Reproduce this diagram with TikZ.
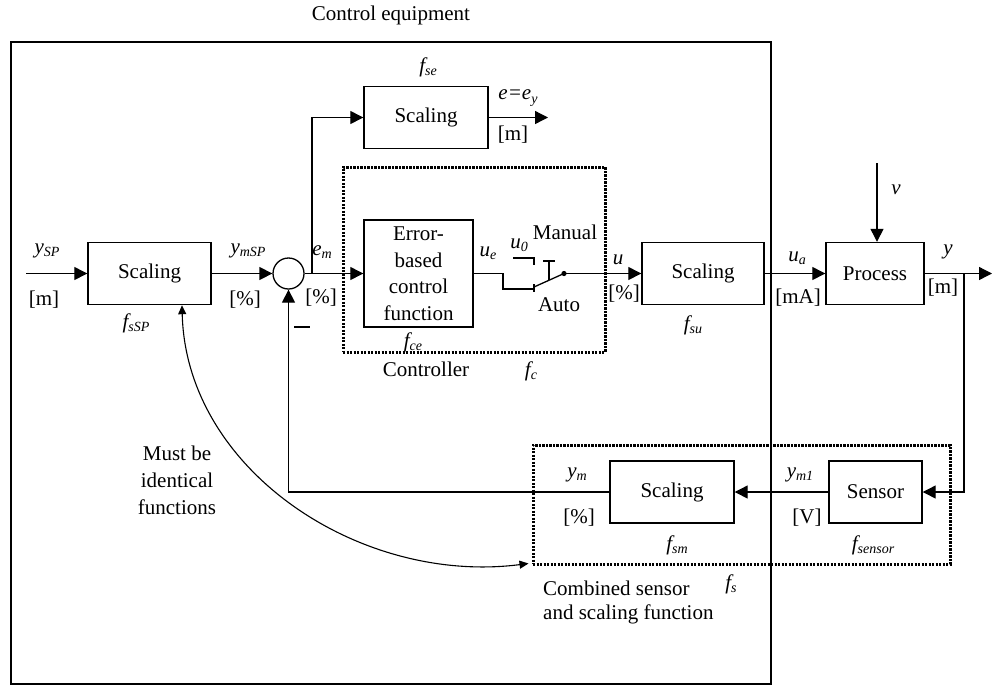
\documentclass[tikz,border=0pt]{standalone}
\usepackage{fontspec}
\setmainfont{Liberation Serif}
\usetikzlibrary{arrows.meta}

% italic symbol with a lowered italic subscript
\newcommand\sig[2]{{\itshape #1}\raisebox{-0.35ex}{\fontsize{14}{14}\selectfont\itshape #2}}

\begin{document}
\begin{tikzpicture}[x=1pt,y=-1pt,
  every node/.style={inner sep=0pt, font=\fontsize{21}{26}\selectfont},
  blk/.style={draw, line width=1.4pt, minimum height=62pt, inner sep=0pt},
  sigline/.style={line width=1.3pt},
  arr/.style={sigline, -{Triangle[length=13pt,width=13pt]}},
  grp/.style={draw, line width=3pt, dash pattern=on 2.2pt off 1.3pt},
  smallarr/.style={line width=1.1pt, {Triangle[length=9pt,width=8pt]}-{Triangle[length=9pt,width=8pt]}},
]
\useasboundingbox (0,0) rectangle (992,686);

% enclosures
\node[draw, line width=1.4pt, minimum width=760pt, minimum height=642pt] (equip) at (391,363) {};
\node (title) at (391,15) {Control equipment};
\node[grp, minimum width=262pt, minimum height=185pt] (ctrl) at (474,259.5) {};
\node[grp, minimum width=417pt, minimum height=119pt] (sgrp) at (741.5,504.5) {};

% blocks
\node[blk, minimum width=123pt] (sSP) at (149.5,273.5) {Scaling};
\node[draw, circle, line width=1.3pt, minimum size=31pt] (sum) at (288.5,273.5) {};
\node[blk, minimum width=124pt] (fse) at (426,117.5) {Scaling};
\node[blk, minimum width=109pt, minimum height=107pt, align=center,
      font=\fontsize{21}{26.5}\selectfont] (err) at (418.5,273.5) {Error-\\based\\control\\function};
\node[blk, minimum width=122pt] (su) at (703,273.5) {Scaling};
\node[blk, minimum width=98pt] (proc) at (875,273.5) {Process};
\node[blk, minimum width=124pt] (ssm) at (672,492) {Scaling};
\node[blk, minimum width=93pt] (sens) at (875.5,492) {Sensor};

% free ends and corners
\coordinate (yin) at (26,273.5);
\coordinate (br1) at (312,273.5);
\coordinate (eout) at (548,117.5);
\coordinate (sa) at (503,273.5);
\coordinate (sb) at (503,289);
\coordinate (sc) at (534,289);
\coordinate (pivot) at (534,287);
\coordinate (tip) at (564,273.5);
\coordinate (vtop) at (877,163);
\coordinate (yout) at (992,273.5);
\coordinate (br2) at (964,273.5);
\coordinate (fbk) at (288.5,492);

% signal paths
\draw[arr] (yin) -- (sSP.west);
\draw[arr] (sSP.east) -- (sum.west);
\draw[arr] (sum.east) -- (err.west);
\draw[arr] (br1) |- (fse.west);
\draw[arr] (fse.east) -- (eout);
\draw[sigline] (err.east) -- (sa) -- (sb) -- (sc);
\draw[arr] (tip) -- (su.west);
\draw[arr] (su.east) -- (proc.west);
\draw[arr] (vtop) -- (vtop |- proc.north);
\draw[arr] (proc.east) -- (yout);
\draw[arr] (br2) |- (sens.east);
\draw[arr] (sens.west) -- (ssm.east);
\draw[arr] (ssm.west) -- (fbk) -- (sum.south);

% manual/auto switch
\draw[sigline] (534,284) -- (534,292);
\draw[sigline] (pivot) -- (tip);
\fill (tip) circle (2.6pt);
\draw[sigline] (513,258) -- (534,258) -- (534,265);
\draw[sigline] (543,261) -- (555,261);
\draw[sigline] (549,261) -- (549,280);

% minus sign at the summing point
\draw[line width=1.4pt] (294,327) -- (310,327);

% link between the two scaling functions
\draw[smallarr] ([xshift=32.5pt]sSP.south) .. controls (186,470) and (360,585) .. ([xshift=-3pt,yshift=2pt]sgrp.south west);

% labels
\node (lySP) at (47,251) {\sig{y}{SP}};
\node (lm1) at (44,300) {[m]};
\node (lymSP) at (248,251) {\sig{y}{mSP}};
\node (lp1) at (245,300) {[\%]};
\node (lem) at (322,252) {\sig{e}{m}};
\node (lp2) at (321,298) {[\%]};
\node (lfSP) at (136,323) {\sig{f}{sSP}};
\node (lfse) at (428,67) {\sig{f}{se}};
\node (le) at (518,98) {\sig{e=e}{y}};
\node (lm2) at (513,135) {[m]};
\node (lfce) at (413,342) {\sig{f}{ce}};
\node (lctrl) at (426,369) {Controller};
\node (lfc) at (531,371) {\sig{f}{c}};
\node (lue) at (488,253) {\sig{u}{e}};
\node (lu0) at (519,245) {\sig{u}{0}};
\node (lman) at (565,232) {Manual};
\node (lauto) at (559,305) {Auto};
\node (lu) at (618,260) {\itshape u};
\node (lp3) at (624,294) {[\%]};
\node (lfsu) at (693,325) {\sig{f}{su}};
\node (lua) at (797,258) {\sig{u}{a}};
\node (lmA) at (798,298) {[mA]};
\node (lv) at (896,190) {\itshape v};
\node (ly) at (948,252) {\itshape y};
\node (lm3) at (943,288) {[m]};
\node (lym) at (577,475) {\sig{y}{m}};
\node (lp4) at (579,518) {[\%]};
\node (lym1) at (800,475) {\sig{y}{m1}};
\node (lV) at (807,518) {[V]};
\node (lfsm) at (677,545) {\sig{f}{sm}};
\node (lfsens) at (873,545) {\sig{f}{sensor}};
\node (lfs) at (731,584) {\sig{f}{s}};
\node[align=left, anchor=west, font=\fontsize{21}{24}\selectfont] (lcomb) at (543,602) {Combined sensor\\and scaling function};
\node[align=center, font=\fontsize{21}{27}\selectfont] (lmust) at (177,480) {Must be\\identical\\functions};
\end{tikzpicture}
\end{document}
